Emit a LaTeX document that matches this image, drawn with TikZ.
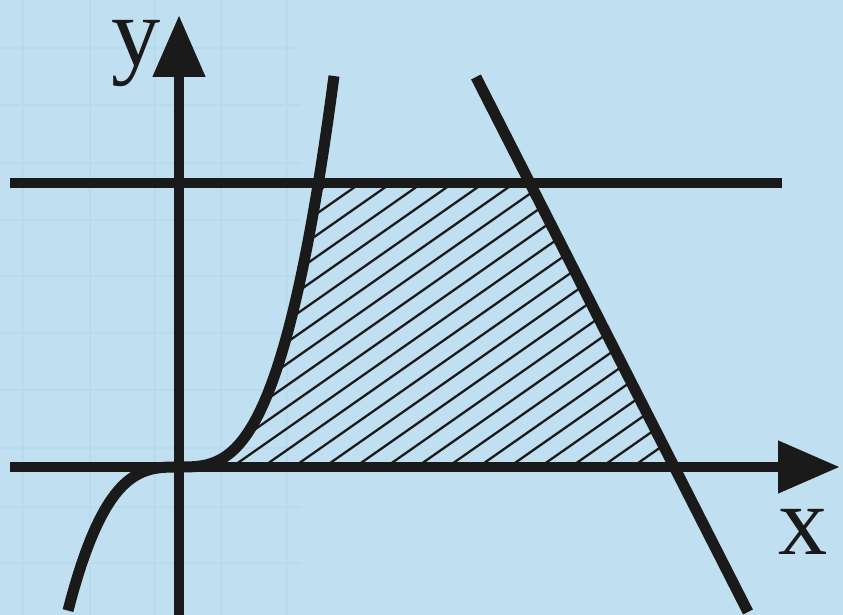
\documentclass[tikz,border=0pt]{standalone}
\usepackage{fontspec}
\setmainfont{Liberation Serif}
\usetikzlibrary{arrows.meta}
\definecolor{bgcol}{HTML}{C0DFF0}
\definecolor{gridcol}{HTML}{B8DAEE}
\definecolor{inkcol}{HTML}{1A1A1A}

\begin{document}
\begin{tikzpicture}[
  x=0.02cm, y=-0.02cm,
  axis/.style={draw=inkcol, line width=0.22cm, -{Triangle[length=1.24cm, width=1.0cm]}},
  thickline/.style={draw=inkcol, line width=0.22cm},
  hatchline/.style={draw=inkcol, line width=1.3pt},
  faintgrid/.style={draw=gridcol, line width=1pt},
  axislabel/.style={text=inkcol, font=\fontsize{56}{56}\selectfont, inner sep=0pt, anchor=base}
]
% background
\fill[bgcol] (0,0) rectangle (843,615);
\useasboundingbox (0,0) rectangle (843,615);

% faint grid on the left
\foreach \gx in {23,90,155,221,287}
  \draw[faintgrid] (\gx,0) -- (\gx,615);
\foreach \gy in {48,105,163,220,276,333,390,448,507,563}
  \draw[faintgrid] (0,\gy) -- (300,\gy);

% hatched region
\begin{scope}
  \clip plot[domain=0:139.3, smooth, samples=40] ({179+\x},{467-105*(\x/100)^3})
    -- (530,183) -- (674,467) -- cycle;
  \foreach \i in {-16,...,16}
    \draw[hatchline] ({232+30.8*\i-500},{467+350}) -- ({232+30.8*\i+500},{467-350});
\end{scope}

% lines
\draw[thickline] (10,183) -- (782,183);
\draw[thickline] (476,77) -- (748,612);
\draw[thickline] plot[domain=-111:155, smooth, samples=80] ({179+\x},{467-105*(\x/100)^3});

% axes
\coordinate (xstart) at (10,467);
\coordinate (xend) at (840,467);
\coordinate (ystart) at (179,615);
\coordinate (yend) at (179,15);
\draw[axis] (xstart) -- (xend);
\draw[axis] (ystart) -- (yend);

\node[axislabel] (ylab) at (136,66) {y};
\node[axislabel] (xlab) at (803,554) {x};
\end{tikzpicture}
\end{document}
